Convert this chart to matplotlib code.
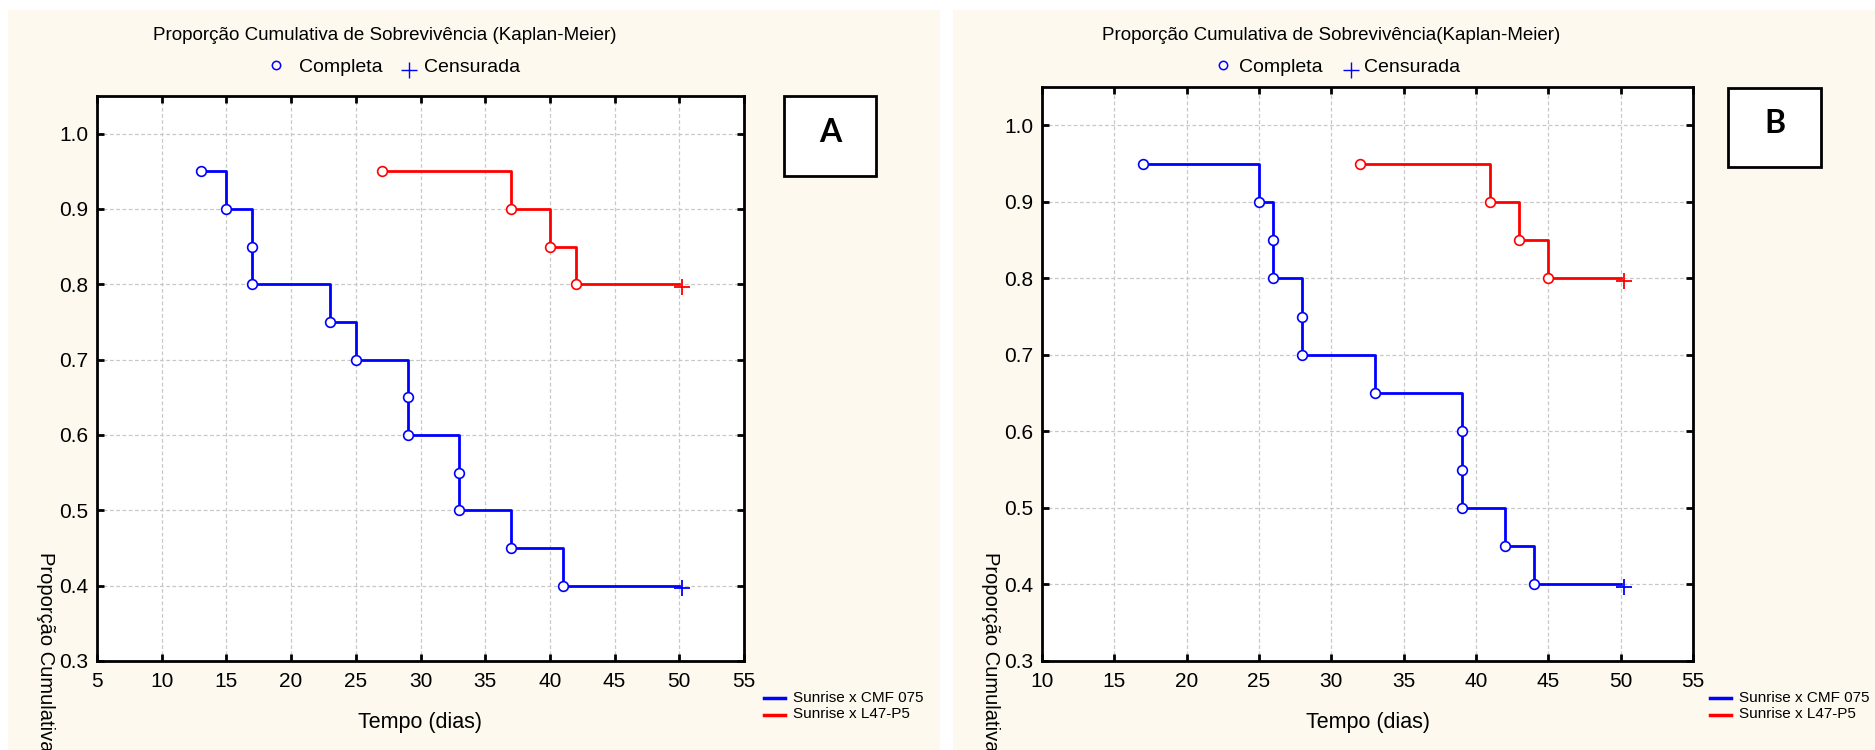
import matplotlib
matplotlib.use('Agg')
import matplotlib.pyplot as plt
from matplotlib.patches import Rectangle
from matplotlib.lines import Line2D

plt.rcParams['font.family'] = ['Liberation Sans', 'DejaVu Sans']

# painel A
tempo_a_cmf = [13, 15, 17, 17, 23, 25, 29, 29, 33, 33, 37, 41]
surv_a_cmf = [0.95, 0.90, 0.85, 0.80, 0.75, 0.70, 0.65, 0.60, 0.55, 0.50, 0.45, 0.40]
tempo_a_l47 = [27, 37, 40, 42]
surv_a_l47 = [0.95, 0.90, 0.85, 0.80]

# painel B
tempo_b_cmf = [17, 25, 26, 26, 28, 28, 33, 39, 39, 39, 42, 44]
surv_b_cmf = [0.95, 0.90, 0.85, 0.80, 0.75, 0.70, 0.65, 0.60, 0.55, 0.50, 0.45, 0.40]
tempo_b_l47 = [32, 41, 43, 45]
surv_b_l47 = [0.95, 0.90, 0.85, 0.80]

censura = 50
series_names = ['Sunrise x CMF 075', 'Sunrise x L47-P5']
series_colors = ['#0000ff', '#ff0000']
y_ticks = [0.3, 0.4, 0.5, 0.6, 0.7, 0.8, 0.9, 1.0]
x_ticks_a = [5, 10, 15, 20, 25, 30, 35, 40, 45, 50, 55]
x_ticks_b = [10, 15, 20, 25, 30, 35, 40, 45, 50, 55]

W, H = 1875, 750
CREAM = '#fdf9ef'


def fx(x):
    return x / W


def fy(y):
    return 1 - y / H


fig = plt.figure(figsize=(18.75, 7.5), dpi=100)
fig.patch.set_facecolor('white')

# fundos creme dos dois paineis
fig.add_artist(Rectangle((fx(8), 0), fx(940) - fx(8), fy(10), transform=fig.transFigure,
                         facecolor=CREAM, edgecolor='none', zorder=0))
fig.add_artist(Rectangle((fx(953), 0), 1 - fx(953), fy(10), transform=fig.transFigure,
                         facecolor=CREAM, edgecolor='none', zorder=0))


def km_curve(ax, tempos, surv, color):
    xs = list(tempos) + [censura]
    ys = list(surv) + [surv[-1]]
    ax.step(xs, ys, where='post', color=color, lw=2.0, zorder=3)
    ax.plot(tempos, surv, 'o', ms=7, mfc='white', mec=color, mew=1.2, zorder=4)
    ax.plot([censura + 0.2], [surv[-1] - 0.003], '+', ms=11, color=color, mew=1.3, zorder=4)


def draw_panel(box, xticks, xlim, curves, title, title_x, leg, letter_box, letter, ylab_x, leg2):
    ax = fig.add_axes(box)
    ax.set_facecolor('white')
    for tempos, surv, color in curves:
        km_curve(ax, tempos, surv, color)
    ax.set_xlim(*xlim)
    ax.set_ylim(0.3, 1.05)
    ax.set_xticks(xticks)
    ax.set_yticks(y_ticks)
    ax.set_yticklabels(['%.1f' % v for v in y_ticks])
    ax.grid(True, color='#c8c8c8', ls=(0, (3, 2)), lw=0.9, zorder=1)
    ax.tick_params(direction='in', length=5, width=2, top=True, right=True,
                   labelsize=15, pad=8)
    ax.tick_params(axis='y', pad=6)
    for s in ax.spines.values():
        s.set_linewidth(2)
        s.set_zorder(5)
    ax.set_xlabel('Tempo (dias)', fontsize=15.5, labelpad=15)

    fig.text(fx(ylab_x), fy(552), 'Proporção Cumulativa', rotation=270, fontsize=14.5,
             ha='center', va='top')
    fig.text(fx(title_x), fy(36), title, fontsize=13.5, ha='center', va='center')

    cx, tx1, px, tx2 = leg
    fig.add_artist(Line2D([fx(cx)], [fy(65)], transform=fig.transFigure, marker='o', ms=6,
                          mfc='none', mec='#0000ff', mew=1.1, ls='none'))
    fig.text(fx(tx1), fy(67), 'Completa', fontsize=14, ha='left', va='center')
    fig.add_artist(Line2D([fx(px)], [fy(70)], transform=fig.transFigure, marker='+', ms=11,
                          color='#0000ff', mew=1.0, ls='none'))
    fig.text(fx(tx2), fy(67), 'Censurada', fontsize=14, ha='left', va='center')

    x0, y0, x1, y1 = letter_box
    fig.add_artist(Rectangle((fx(x0), fy(y1)), fx(x1) - fx(x0), fy(y0) - fy(y1),
                             transform=fig.transFigure, facecolor='white', edgecolor='black',
                             lw=2, zorder=2))
    fig.text(fx((x0 + x1) / 2), fy((y0 + y1) / 2 - 4), letter, fontsize=23,
             fontweight='bold', family=['Lato', 'DejaVu Sans'], ha='center', va='center', zorder=3)

    lx0, lx1, ly = leg2
    for i, (name, color) in enumerate(zip(series_names, series_colors)):
        yy = ly + i * 16.5
        fig.add_artist(Line2D([fx(lx0), fx(lx1)], [fy(yy), fy(yy)], transform=fig.transFigure,
                              color=color, lw=2.5))
        fig.text(fx(lx1 + 8), fy(yy), name, fontsize=11, ha='left', va='center')
    return ax


draw_panel([fx(97), fy(661), fx(744) - fx(97), fy(96) - fy(661)], x_ticks_a, (5, 55),
           [(tempo_a_cmf, surv_a_cmf, series_colors[0]), (tempo_a_l47, surv_a_l47, series_colors[1])],
           'Proporção Cumulativa de Sobrevivência (Kaplan-Meier)', 385,
           (276, 299, 409, 424), (784, 96, 876, 176), 'A', 45, (764, 785, 698))

draw_panel([fx(1042), fy(661), fx(1693) - fx(1042), fy(87) - fy(661)], x_ticks_b, (10, 55),
           [(tempo_b_cmf, surv_b_cmf, series_colors[0]), (tempo_b_l47, surv_b_l47, series_colors[1])],
           'Proporção Cumulativa de Sobrevivência(Kaplan-Meier)', 1331,
           (1223, 1239, 1351, 1364), (1728, 88, 1821, 167), 'B', 991, (1710, 1731, 698))

fig.savefig('out.png', dpi=100)
